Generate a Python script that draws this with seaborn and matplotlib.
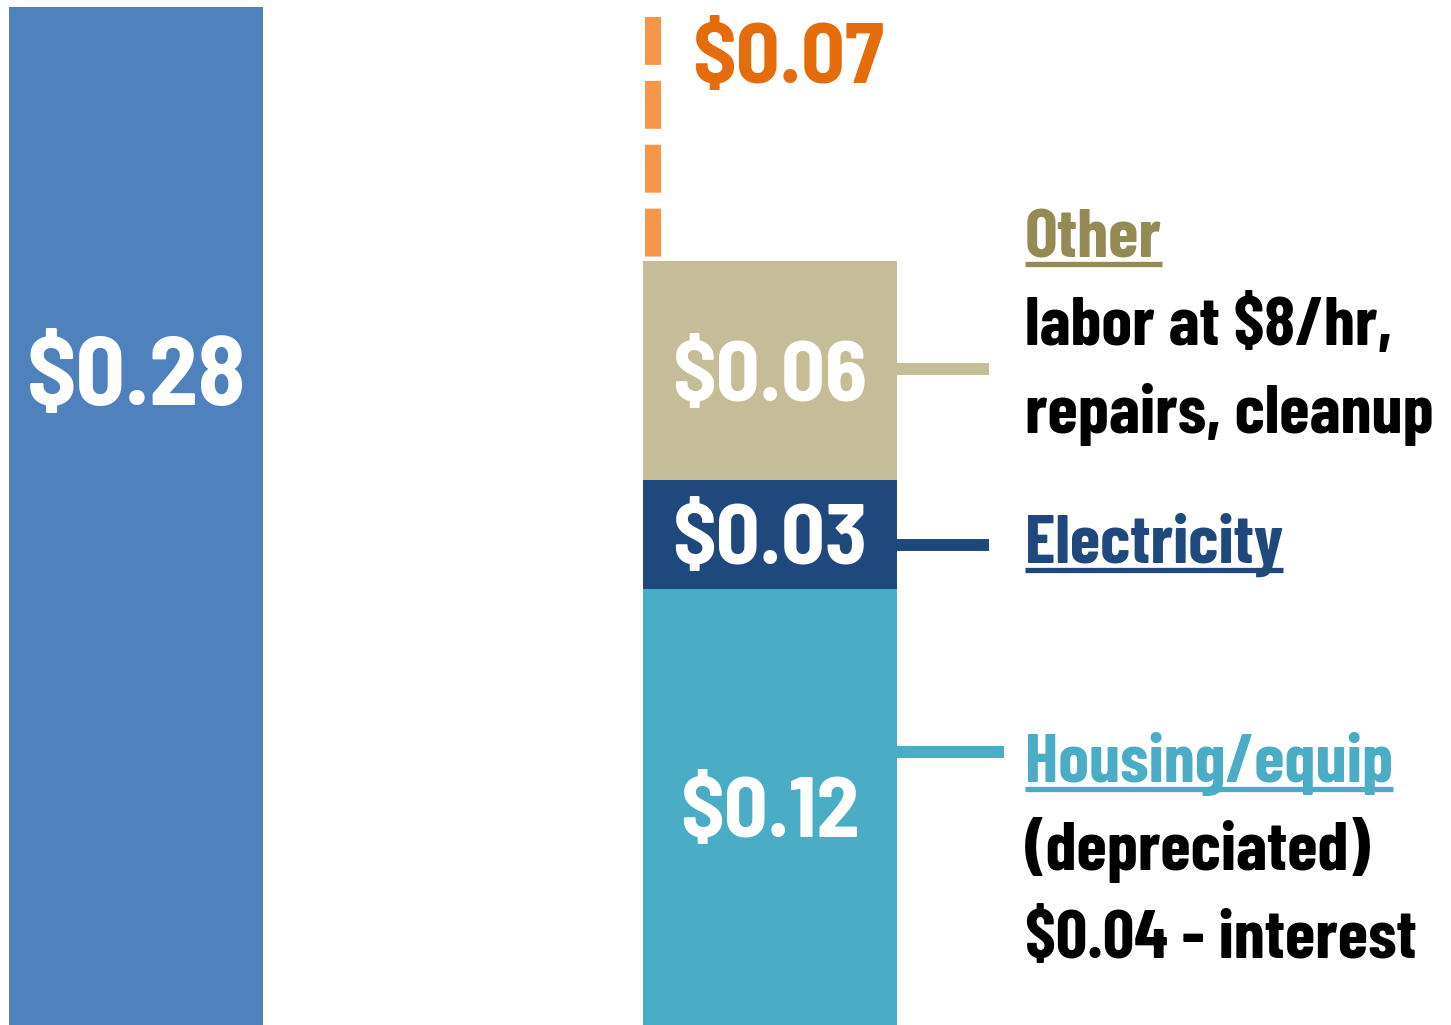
import matplotlib
matplotlib.use("Agg")
import matplotlib.pyplot as plt
from matplotlib.lines import Line2D
import seaborn as sns

# Data
categories = ["Price", "Cost"]
price_value = 0.28
cost_parts = ["Housing/equip", "Electricity", "Other"]
cost_values = [0.12, 0.03, 0.06]
cost_colors = ["#4BACC6", "#1F497D", "#C4BD97"]
label_colors = ["#4BACC6", "#1F497D", "#948A54"]
leader_heights = [0.0751, 0.132, 0.1804]
notes = [["(depreciated)", "$0.04 - interest"], [], ["labor at $8/hr,", "repairs, cleanup"]]

sns.set_theme(style="white")
plt.rcParams["font.family"] = ["Barlow Condensed", "DejaVu Sans"]
big_font = ["Barlow Semi Condensed", "DejaVu Sans"]

fig = plt.figure(figsize=(14.51, 10.25), dpi=100)
ax = fig.add_axes([0, 0, 1, 1])

bw = 0.4006
# left bar
sns.barplot(x=["Price"], y=[price_value], order=categories, color="#4F81BD",
            width=bw, linewidth=0, saturation=1, ax=ax)

# stacked bar: draw cumulative totals tallest first
cum = []
s = 0
for v in cost_values:
    s += v
    cum.append(s)
for total, c in reversed(list(zip(cum, cost_colors))):
    sns.barplot(x=["Cost"], y=[total], order=categories, color=c,
                width=bw, linewidth=0, saturation=1, ax=ax)

ax.set_xlim(-0.2145, 2.0741)
ax.set_ylim(0, 0.2819)
ax.axis("off")


def centered_label(x, y, txt, fs):
    # put the digits' middle (cap height ~0.7em) on y
    ax.annotate(txt, (x, y), xytext=(0, -0.35 * fs), textcoords="offset points",
                color="white", fontsize=fs, fontweight="bold", family=big_font,
                ha="center", va="baseline")


# bar value labels
centered_label(0, cum[1] + cost_values[2] / 2, f"${price_value:.2f}", 70)
bottom = 0
for v in cost_values:
    centered_label(1, bottom + v / 2, f"${v:.2f}", 62)
    bottom += v

# profit dashed line
profit = price_value - cum[-1]
ax.plot([1 - bw / 2 + 0.0158, 1 - bw / 2 + 0.0158], [price_value, cum[-1]],
        color="#F79646", lw=11.5, linestyle=(3.375, (3, 1)), solid_capstyle="butt")
ax.text(0.877, 0.2591, f"${profit:.2f}", color="#E46C0A", fontsize=62,
        fontweight="bold", family=big_font, ha="left", va="baseline")

# leader lines + labels
ends = [1.3691, 1.3454, 1.3454]
for h, e, c in zip(leader_heights, ends, cost_colors):
    ax.plot([1 + bw / 2, e], [h, h], color=c, lw=8.6, solid_capstyle="butt")

title_y = [0.0669, 0.1271, 0.2112]
line_gap = 0.0242
fig.canvas.draw()
renderer = fig.canvas.get_renderer()
for name, col, ty, note in zip(cost_parts, label_colors, title_y, notes):
    t = ax.text(1.4022, ty, name, color=col, fontsize=50, fontweight="bold",
                ha="left", va="baseline")
    fig.canvas.draw()
    bb = t.get_window_extent(renderer)
    base = ax.transData.transform((1.4022, ty))[1]
    fig.add_artist(Line2D([bb.x0, bb.x1], [base - 7, base - 7], color=col, lw=3.8,
                          transform=None, solid_capstyle="butt"))
    for i, line in enumerate(note):
        ax.text(1.4022, ty - line_gap * (i + 1), line, color="black", fontsize=50,
                fontweight="bold", ha="left", va="baseline")

plt.savefig("out.png", dpi=100)
plt.close()
